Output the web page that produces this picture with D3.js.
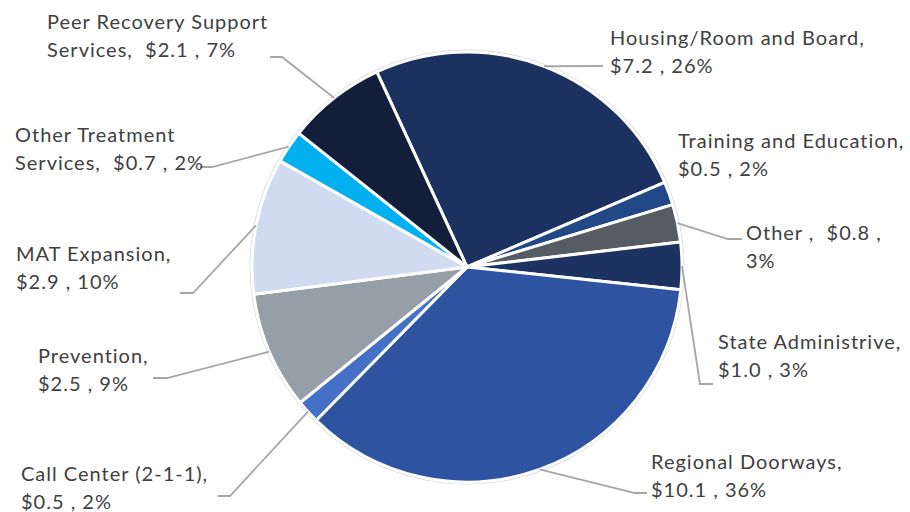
<!DOCTYPE html>
<html>
<head>
<meta charset="utf-8">
<script src="https://cdn.jsdelivr.net/npm/d3@7"></script>
<style>
  body { margin: 0; background: #fff; }
  svg { display: block; }
  .lbl { font-family: Lato, "Open Sans", sans-serif; font-size: 20px; fill: #404040; letter-spacing: 1px; }
</style>
</head>
<body>
<div id="chart"></div>
<script>
// spending by category, $ millions
var categories = ["Housing/Room and Board", "Training and Education", "Other", "State Administrive",
  "Regional Doorways", "Call Center (2-1-1)", "Prevention", "MAT Expansion",
  "Other Treatment Services", "Peer Recovery Support Services"];
var amounts = [7.2, 0.5, 0.8, 1.0, 10.1, 0.5, 2.5, 2.9, 0.7, 2.1];
var percents = [26, 2, 3, 3, 36, 2, 9, 10, 2, 7];
var colors = ["#1b3160", "#234887", "#555c63", "#1c3261", "#2d53a1",
  "#4471c5", "#969ea7", "#d0dbf1", "#00b0ef", "#121e3a"];

// label text as it's wrapped in the original
var labelLines = [
  ["Housing/Room and Board,", "$7.2 , 26%"],
  ["Training and Education,", "$0.5 , 2%"],
  ["Other ,  $0.8 ,", "3%"],
  ["State Administrive,", "$1.0 , 3%"],
  ["Regional Doorways,", "$10.1 , 36%"],
  ["Call Center (2-1-1),", "$0.5 , 2%"],
  ["Prevention,", "$2.5 , 9%"],
  ["MAT Expansion,", "$2.9 , 10%"],
  ["Other Treatment", "Services,  $0.7 , 2%"],
  ["Peer Recovery Support", "Services,  $2.1 , 7%"]
];

var width = 910, height = 512;
var cx = 467, cy = 267, radius = 215;

// label placement: text x / first baseline, leader elbow + end (null = no leader)
var labelPos = [
  {x: 610, y: 45, elbow: null, end: [603, 66]},
  {x: 678, y: 148, elbow: null, end: null},
  {x: 746, y: 240, elbow: [728, 239], end: [742, 239]},
  {x: 718, y: 349, elbow: [700, 384], end: [713, 384]},
  {x: 651, y: 469, elbow: [635, 493], end: [647, 493]},
  {x: 21, y: 481, elbow: [230, 496], end: [218, 496]},
  {x: 38, y: 363, elbow: [167, 378], end: [153, 378]},
  {x: 16, y: 261, elbow: [193, 293], end: [180, 293]},
  {x: 15, y: 142, elbow: [212, 167], end: [200, 167]},
  {x: 47, y: 29, elbow: [282, 57], end: [270, 57]}
];

var svg = d3.select("#chart")
  .append("svg")
    .attr("width", width)
    .attr("height", height);

var g = svg.append("g")
    .attr("transform", "translate(" + cx + "," + cy + ")");

var start = -24.8 * Math.PI / 180;
var pie = d3.pie()
    .sort(null)
    .value(function(d) { return d; })
    .startAngle(start)
    .endAngle(start + 2 * Math.PI);

var arcs = pie(amounts);

var arc = d3.arc()
    .innerRadius(0)
    .outerRadius(radius);

// faint outer ring
g.append("circle")
    .attr("r", radius + 2)
    .style("fill", "none")
    .style("stroke", "#d9d9d9")
    .style("stroke-width", 1);

g.selectAll("path.slice")
  .data(arcs)
  .enter()
  .append("path")
    .attr("class", "slice")
    .attr("d", arc)
    .style("fill", function(d, i) { return colors[i]; })
    .style("stroke", "#fff")
    .style("stroke-width", 3)
    .style("stroke-linejoin", "round");

// leader lines
arcs.forEach(function(d, i) {
  var p = labelPos[i];
  if (!p.end) return;
  var a = (d.startAngle + d.endAngle) / 2;
  var sx = cx + radius * Math.sin(a), sy = cy - radius * Math.cos(a);
  var pts = [[sx, sy]];
  if (p.elbow) pts.push(p.elbow);
  pts.push(p.end);
  svg.append("path")
    .attr("d", d3.line()(pts))
    .style("fill", "none")
    .style("stroke", "#a6a6a6")
    .style("stroke-width", 1.8);
});

// labels
labelLines.forEach(function(lines, i) {
  var p = labelPos[i];
  var t = svg.append("text")
    .attr("class", "lbl")
    .attr("x", p.x)
    .attr("y", p.y);
  lines.forEach(function(s, j) {
    t.append("tspan")
      .attr("x", p.x)
      .attr("dy", j === 0 ? 0 : 28)
      .style("white-space", "pre")
      .text(s);
  });
});
</script>
</body>
</html>
